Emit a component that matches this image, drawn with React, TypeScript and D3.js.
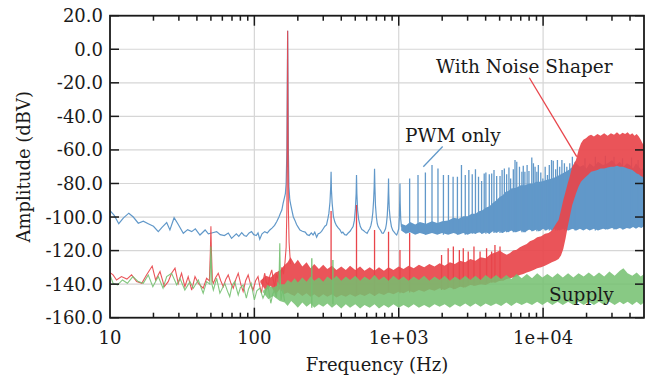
import React from 'react';
import * as d3 from 'd3';

// ---- axis setup ----
const xTickValues = [10, 100, 1000, 10000];
const xTickLabels = ['10', '100', '1e+03', '1e+04'];
const yTickValues = [-160, -140, -120, -100, -80, -60, -40, -20, 0, 20];

// ---- PWM only (blue) ----
// low-frequency trace incl. fundamental and first harmonics [Hz, dBV]
const blueLine: [number, number][] = [
  [10, -96.2], [10.7, -99], [11.5, -104], [12.4, -100.5], [13.5, -97.7], [14.5, -100], [15.7, -103.7],
  [17, -102.5], [18.4, -104], [20, -105.5], [21.6, -108.7], [23, -106], [24.7, -103.3], [26, -107.7],
  [27.8, -100.4], [29.5, -104], [32.2, -109.7], [34.5, -107.5], [36.8, -108.7], [39, -107], [42, -110.7],
  [45.6, -107.7], [48, -110], [50.6, -109.5], [54.8, -108.7], [58, -110.5], [62, -111], [66, -109.5],
  [69.5, -112.7], [75, -110], [78, -111.5], [81.7, -109.3], [85, -111], [88, -111.5], [92, -109.5],
  [95.6, -108.7], [99, -110.5], [103, -111], [106, -109.5], [109, -113.2], [113, -110], [118, -108.7],
  [123, -109.5], [128, -107.7], [133, -106.5], [138, -105], [143, -102.7], [148, -100], [152, -97.5],
  [155, -95.8], [158, -92], [161, -89], [164, -86], [166, -80], [168, -60], [170, 11], [172, -60],
  [173.5, -82], [176, -89.8], [179, -93], [182, -96], [186, -99.8], [191, -102], [196, -104.5], [201, -106],
  [207, -107.7], [215, -108.5], [225, -109], [232, -110.5], [240, -111], [248, -109.5], [255, -110.7],
  [262, -109], [270, -112], [277, -110], [283, -109.7], [292, -108.5], [300, -107], [308, -105.5],
  [316, -104.7], [323, -101], [328, -98], [334, -91], [338, -82], [340, -73], [342, -84], [346, -92],
  [353, -99.8], [361, -103], [370, -105], [381, -106.5], [392, -107.7], [402, -109.5], [410, -109],
  [422, -110.5], [435, -110.7], [447, -109.5], [460, -108.5], [472, -107], [483, -105.7], [493, -102],
  [501, -95], [507, -86], [510, -75], [513, -86], [519, -96], [528, -101.5], [542, -105.7], [556, -107.5],
  [570, -108], [587, -109], [604, -109.7], [618, -108], [630, -107], [642, -105], [652, -102], [662, -97],
  [670, -90], [676, -82], [680, -71.3], [684, -82], [690, -93], [700, -100], [710, -104], [720, -105.7],
  [735, -107], [750, -108], [765, -109.5], [781, -109.7], [796, -108.5], [810, -107], [822, -104],
  [833, -99], [842, -91], [847, -84], [850, -77], [853, -86], [860, -95], [872, -101], [890, -105.7],
  [910, -108], [930, -109], [950, -110], [968, -110.7], [985, -109], [1000, -107], [1010, -100],
  [1016, -90], [1020, -80], [1024, -92], [1032, -101], [1045, -106],
];
// dense region [Hz, low dBV, high dBV]
const blueBand: [number, number, number][] = [
  [1040, -108, -104], [1120, -110, -105], [1200, -109, -103], [1300, -110.5, -104.5], [1400, -109.5, -103],
  [1550, -110.5, -104], [1700, -109.5, -102.5], [1850, -110.5, -103.5], [2000, -109.5, -102.5],
  [2200, -110.5, -102], [2400, -109.5, -100.5], [2600, -110.5, -101], [2800, -109.5, -99.5],
  [3000, -110.5, -99.5], [3200, -109.5, -98], [3400, -110, -98], [3600, -109, -96.5], [3800, -110, -96],
  [4000, -109, -94.5], [4250, -110, -93.5], [4500, -108.5, -91.5], [4750, -109.5, -90], [5000, -108.5, -88],
  [5250, -109.5, -87], [5500, -108.5, -85], [5750, -109, -84.5], [6000, -108, -83], [6500, -109, -82.5],
  [7000, -108, -81], [7500, -109, -81], [8000, -107.5, -80], [8500, -108.5, -80], [9000, -107.5, -79],
  [9500, -108.5, -79], [10000, -107, -78.5], [10500, -108, -78], [11000, -107, -77.5], [11500, -108, -77],
  [12000, -107, -76.5], [13000, -108, -75], [14000, -107, -73.5], [15000, -108, -72], [16000, -107, -70],
  [17000, -108, -68], [18000, -107, -70], [19000, -108, -69], [20000, -107, -71], [21000, -108, -68],
  [22500, -107, -70], [24000, -108, -67], [26000, -107, -69], [28000, -107.5, -68], [30000, -106.5, -66],
  [32000, -107.5, -69], [34000, -106.5, -67], [36000, -107.5, -70], [38000, -106.5, -68], [40000, -107, -69],
  [42000, -106, -71], [44000, -107, -68], [46000, -106, -70], [48000, -106.5, -72], [50000, -105.5, -70],
];
// harmonic peaks [Hz, dBV]
const blueSpikes: [number, number][] = [
  [1190, -77], [1360, -75], [1530, -73.5], [1700, -69], [1870, -71], [2040, -75], [2210, -75], [2380, -76],
  [2550, -76], [2720, -69], [2890, -75], [3060, -72], [3230, -74.5], [3400, -71.5], [3570, -76], [3750, -78.5],
  [3910, -74], [4015, -73.5], [4240, -74.5], [4405, -74], [4570, -72], [4770, -75.5], [5030, -75.5],
  [5200, -72], [5390, -71], [5590, -74.5], [5800, -70.5], [5960, -77], [6220, -71.5], [6390, -66],
  [6570, -67], [6860, -70], [7130, -73], [7290, -69.5], [7480, -73], [7750, -69], [7980, -72.5],
  [8350, -64.5], [8570, -68], [8800, -70], [9050, -73], [9270, -69], [9640, -73.5], [9960, -77],
  [10340, -70], [10720, -75], [11040, -69], [11440, -66], [11760, -66.5], [12220, -71.5], [12570, -66],
  [13030, -70], [13500, -66], [14050, -68], [14600, -70], [15300, -68], [15950, -64], [16670, -67],
  [19500, -65], [23000, -64], [27000, -63.5], [31000, -64], [35500, -65], [41000, -64.5], [45500, -66],
];

// ---- With Noise Shaper (red) ----
const redLine: [number, number][] = [
  [10, -133.1], [10.5, -134.5], [11.1, -137.5], [12, -135.5], [13.1, -137], [14.1, -134.5], [15.3, -138.5],
  [16.6, -139.5], [17.9, -134.5], [19.6, -129.2], [20.7, -137.5], [22.2, -132.5], [23.8, -141.5],
  [25.3, -138.5], [26.7, -133.5], [28.2, -130.5], [29.7, -139.5], [31.3, -133.5], [33, -141.5],
  [34.8, -135.5], [36.8, -143.5], [38.8, -135.5], [40.9, -139.5], [44.2, -142.4], [46.7, -136.5],
  [48.8, -138], [49.6, -120], [50, -105.5], [50.4, -120], [51.2, -138], [52, -139.5], [54, -136],
  [56.2, -133.5], [58.5, -138], [60.9, -141.5], [63.5, -137], [65.9, -134.5], [68.5, -139], [71.4, -142.4],
  [74.5, -137], [77.3, -133.5], [80.5, -140], [83.6, -144.4], [87, -138], [90.6, -134.5], [94, -140],
  [98, -143.5], [102, -138], [106, -135.5], [109, -141], [112, -145.4], [115, -138], [118, -133.5],
  [121, -139], [125, -140.5], [128, -135], [132, -131.5], [135, -137], [138, -141.5], [142, -134],
  [145, -136.5], [148, -132], [151, -138], [155, -130], [159, -134], [163, -127], [166, -118], [168, -95],
  [170, 11], [172, -95], [174, -115], [176, -122], [178, -128],
];
const redBand: [number, number, number][] = [
  [110, -139, -138], [120, -144, -135], [130, -141, -136], [140, -146, -133], [150, -143, -132],
  [160, -146, -129], [170, -145, -127], [178, -146, -124], [190, -147, -128],
  [200, -145, -125.5], [215, -147, -129.5], [230, -145.5, -127], [245, -147.5, -130.5], [260, -146, -128],
  [280, -148, -131], [300, -146, -128.5], [320, -147.5, -131], [345, -146, -129], [370, -148, -131.5],
  [400, -146.5, -129.5], [430, -147.5, -131.5], [460, -146, -129], [500, -147.5, -131.5], [540, -146, -129.5],
  [580, -147, -132], [630, -145.5, -130], [680, -147, -132], [730, -145.5, -130], [790, -146.5, -132],
  [850, -145, -130], [920, -146, -131.5], [1000, -144.5, -129.5], [1080, -145.5, -131], [1170, -144, -129],
  [1270, -145, -130.5], [1380, -143.5, -128.5], [1500, -144.5, -130], [1630, -143, -128], [1770, -144, -129.5],
  [1920, -142.5, -127.5], [2080, -143.5, -129], [2260, -142, -127], [2450, -143, -128], [2660, -141.5, -126],
  [2890, -142, -127], [3130, -140.5, -125], [3400, -141, -126], [3690, -140, -124], [4000, -140.5, -124.5],
  [4350, -139, -122], [4720, -139, -121], [5000, -138, -120], [5300, -138, -121.5], [5600, -137, -122.5],
  [5900, -136.5, -121.5], [6200, -136, -120], [6550, -135.5, -119.5], [6900, -134.5, -118], [7300, -134, -117],
  [7700, -133, -116], [8100, -132.5, -114.5], [8600, -131.5, -113.5], [9100, -130.5, -112], [9700, -130, -111.5],
  [10300, -129, -110], [10900, -128, -109.5], [11500, -127, -108], [12200, -126, -104.5],
  [12800, -125, -101.7], [13300, -123, -96], [13800, -119, -89.8], [14300, -113, -85], [14800, -106, -80],
  [15300, -100, -75.9], [15900, -93, -70], [16900, -86, -66], [17600, -82, -60], [18300, -79, -56],
  [19000, -77.5, -54], [19800, -76, -53], [20700, -74.5, -51.5], [21500, -73, -51], [22500, -72.5, -52],
  [23800, -72, -50.5], [25000, -71, -51.5], [26500, -71, -50], [28000, -70.5, -51.5], [29500, -70, -50],
  [31000, -70, -51], [32500, -69.5, -49.5], [34000, -70, -51], [35500, -70, -49.7], [37000, -70.5, -50.5],
  [38500, -71, -49.5], [40000, -71.5, -51], [41500, -72, -50], [43000, -73, -51.5], [44500, -74, -50.5],
  [46000, -74.5, -52], [47500, -75.5, -54], [48800, -76, -56], [50000, -77, -57],
];
const redSpikes: [number, number][] = [
  [340, -96.4], [510, -92.8], [680, -107.7], [850, -108.7], [1020, -119.6], [1190, -109.5], [1980, -122.6],
  [2200, -118.6], [2390, -117.6], [2630, -119.6], [2800, -118.6], [3030, -120.6], [3320, -117.6],
  [3660, -120.6], [4060, -118.6], [4400, -120.6], [4640, -116.6], [5030, -117.6],
];

// ---- Supply (green) ----
const greenLine: [number, number][] = [
  [10, -134.5], [10.5, -139.5], [11.3, -140.5], [12.2, -137.5], [13.2, -139.5], [14.4, -135.5], [15.7, -138.5],
  [17, -139.5], [18.4, -134.5], [19.8, -141.5], [21.6, -135.5], [23.3, -142.4], [24.7, -135.5], [26.7, -133.5],
  [29, -140.5], [30.5, -136.5], [33, -143.5], [35.8, -138.5], [37.8, -142.4], [40.9, -137.5], [44.2, -145.4],
  [46.7, -138.5], [49.2, -140], [50, -117.6], [50.8, -140], [52, -143.5], [54.8, -136.5], [57.7, -145.4],
  [62.4, -139.5], [65, -144], [67.5, -147.4], [70, -141], [73, -138.5], [77.3, -146.4], [80, -142],
  [83.6, -140.5], [88, -148.4], [91, -143], [95, -139.5], [100, -149.4], [104, -144], [109, -142.4],
  [114.7, -148.4], [119, -145], [124, -140.5], [130, -151.4], [134, -146], [138, -143.5], [142, -148],
  [145, -139.5], [148, -141], [150, -115.6], [152, -145], [153, -149.4], [157, -143], [162, -150],
];
const greenBand: [number, number, number][] = [
  [115, -145, -144], [125, -149, -141], [135, -147, -142], [150, -150, -140], [162, -151, -140],
  [170, -153, -137.5], [180, -150, -139], [190, -152, -136.5],
  [200, -154, -139], [215, -151, -136], [230, -153.5, -138.5], [245, -151.5, -135.5], [260, -154, -138],
  [280, -152, -136], [300, -153.5, -138.5], [320, -151.5, -135.5], [345, -154, -137.5], [370, -152, -135],
  [400, -154.5, -138], [430, -152, -135.5], [460, -154, -137.5], [500, -152, -135], [540, -154.5, -138],
  [580, -152.5, -135.5], [630, -154, -137.5], [680, -152, -134.5], [730, -154.5, -137.5], [790, -152.5, -135.5],
  [850, -154, -138], [920, -152, -135], [1000, -154, -137.5], [1080, -152.5, -135.5], [1170, -154, -138],
  [1270, -152, -135.5], [1380, -154, -137.5], [1500, -152.5, -135], [1630, -154, -138], [1770, -152, -135.5],
  [1920, -153.5, -137.5], [2080, -152, -135], [2260, -154, -138], [2450, -152, -135.5], [2660, -153.5, -137.5],
  [2890, -151.5, -135], [3130, -153.5, -137.5], [3400, -151.5, -135], [3690, -153.5, -137.5], [4000, -151.5, -134.5],
  [4350, -153, -137], [4720, -151.5, -134.5], [5120, -153, -137], [5560, -151, -134.5], [6030, -153, -137],
  [6550, -151, -134], [7110, -152.5, -136.5], [7720, -151, -134], [8380, -152.5, -136.5], [9100, -150.5, -133.5],
  [9880, -152.5, -136], [10700, -150.5, -134], [11600, -152.5, -136], [12600, -150.5, -133.5], [13700, -152.5, -136],
  [14900, -150.5, -133.5], [16200, -152.5, -136], [17600, -150.5, -133.5], [19100, -152.5, -135.5],
  [20700, -150.5, -133], [22500, -152.5, -135.5], [24400, -150.5, -133], [26500, -152.5, -135.5],
  [28800, -150.5, -132.5], [31300, -152.5, -135], [34000, -150.5, -132], [36000, -152, -130.5],
  [38500, -150.5, -133.5], [41500, -152.5, -135], [44500, -150.5, -133], [47500, -152.5, -135.5], [50000, -151, -134],
];
const greenSpikes: [number, number][] = [[250, -124.6], [350, -125.6]];

// ---- annotations [Hz, dBV] ----
const labelPwm = { text: 'PWM only', at: [1105, -55], from: [1480, -70], to: [2016, -58] };
const labelShaper = { text: 'With Noise Shaper', at: [1811, -14], from: [8030, -17], to: [17100, -64] };
const labelSupply = { text: 'Supply', at: [10980, -150] };

const BLUE = '#6198c9';
const RED = '#e8454b';
const GREEN = '#74c070';
const INK = '#1a1a1a';

export default function App() {
  const left = 110, right = 644, top = 15.7, bottom = 317.7;

  const x = d3.scaleLog().domain([10, 50000]).range([left, right]);
  const y = d3.scaleLinear().domain([-160, 20]).range([bottom, top]);

  const line = d3.line<[number, number]>().x(d => x(d[0])).y(d => y(d[1]));
  const area = d3.area<[number, number, number]>()
    .x(d => x(d[0])).y0(d => y(d[1])).y1(d => y(d[2]));

  // bottom of a band at a given frequency (nearest listed point)
  const floorAt = (band: [number, number, number][], f: number) => {
    const i = Math.max(0, Math.min(band.length - 1, d3.bisector((d: [number, number, number]) => d[0]).left(band, f)));
    return band[i][1];
  };

  const minor = x.ticks().filter(t => !xTickValues.includes(t) && t < 50000);

  return (
    <svg width={656} height={379} style={{ position: 'absolute', left: 0, top: 0, background: '#fff' }}
      fontFamily="'DejaVu Serif', serif">
      <defs>
        <clipPath id="plot-clip">
          <rect x={left} y={top} width={right - left} height={bottom - top} />
        </clipPath>
      </defs>

      {/* grid */}
      <g stroke="#d6d6d6" strokeWidth={1.2}>
        {yTickValues.map(v => (
          <line key={'gy' + v} x1={left} x2={right} y1={y(v)} y2={y(v)} />
        ))}
        {xTickValues.slice(1).map(v => (
          <line key={'gx' + v} x1={x(v)} x2={x(v)} y1={top} y2={bottom} />
        ))}
      </g>

      <g clipPath="url(#plot-clip)">
        {/* PWM only */}
        <path d={area(blueBand) || ''} fill={BLUE} />
        <path d={line(blueLine) || ''} fill="none" stroke={BLUE} strokeWidth={1.2} />
        <g stroke={BLUE} strokeWidth={1.3}>
          {blueSpikes.map(([f, v]) => (
            <line key={'bs' + f} x1={x(f)} x2={x(f)} y1={y(floorAt(blueBand, f))} y2={y(v)} />
          ))}
        </g>

        {/* With Noise Shaper */}
        <path d={area(redBand) || ''} fill={RED} opacity={0.92} />
        <path d={line(redLine) || ''} fill="none" stroke={RED} strokeWidth={1.1} opacity={0.92} />
        <g stroke={RED} strokeWidth={1.3}>
          {redSpikes.map(([f, v]) => (
            <line key={'rs' + f} x1={x(f)} x2={x(f)} y1={y(floorAt(redBand, f))} y2={y(v)} />
          ))}
        </g>

        {/* Supply */}
        <path d={area(greenBand) || ''} fill={GREEN} opacity={0.86} />
        <path d={line(greenLine) || ''} fill="none" stroke={GREEN} strokeWidth={1.1} opacity={0.9} />
        <g stroke={GREEN} strokeWidth={1.3}>
          {greenSpikes.map(([f, v]) => (
            <line key={'gs' + f} x1={x(f)} x2={x(f)} y1={y(floorAt(greenBand, f))} y2={y(v)} />
          ))}
        </g>
      </g>

      {/* frame */}
      <rect x={left} y={top} width={right - left} height={bottom - top} fill="none" stroke={INK} strokeWidth={1.8} />

      {/* ticks */}
      <g stroke={INK} strokeWidth={1.5}>
        {xTickValues.slice(1).map(v => (
          <g key={'xt' + v}>
            <line x1={x(v)} x2={x(v)} y1={bottom} y2={bottom - 10} />
            <line x1={x(v)} x2={x(v)} y1={top} y2={top + 10} />
          </g>
        ))}
        {minor.map(v => (
          <g key={'xm' + v}>
            <line x1={x(v)} x2={x(v)} y1={bottom} y2={bottom - 5} />
            <line x1={x(v)} x2={x(v)} y1={top} y2={top + 5} />
          </g>
        ))}
        {yTickValues.map(v => (
          <g key={'yt' + v}>
            <line x1={left} x2={left + 9} y1={y(v)} y2={y(v)} />
            <line x1={right} x2={right - 9} y1={y(v)} y2={y(v)} />
          </g>
        ))}
      </g>

      {/* tick labels */}
      <g fontSize={18} fill={INK}>
        {yTickValues.map(v => (
          <text key={'yl' + v} x={left - 7} y={y(v)} dy="0.36em" textAnchor="end">{v.toFixed(1)}</text>
        ))}
        {xTickValues.map((v, i) => (
          <text key={'xl' + v} x={x(v)} y={344} textAnchor="middle">{xTickLabels[i]}</text>
        ))}
      </g>

      {/* axis titles */}
      <text x={(left + right) / 2} y={371} textAnchor="middle" fontSize={18} fill={INK}>Frequency (Hz)</text>
      <text transform={`translate(30,${(top + bottom) / 2}) rotate(-90)`} textAnchor="middle" fontSize={18} fill={INK}>
        Amplitude (dBV)
      </text>

      {/* annotations */}
      <line x1={x(labelPwm.from[0])} y1={y(labelPwm.from[1])} x2={x(labelPwm.to[0])} y2={y(labelPwm.to[1])}
        stroke={BLUE} strokeWidth={1.3} />
      <line x1={x(labelShaper.from[0])} y1={y(labelShaper.from[1])} x2={x(labelShaper.to[0])} y2={y(labelShaper.to[1])}
        stroke={RED} strokeWidth={1.3} />
      <g fontSize={18.5} fill={INK}>
        <text x={x(labelPwm.at[0])} y={y(labelPwm.at[1])}>{labelPwm.text}</text>
        <text x={x(labelShaper.at[0])} y={y(labelShaper.at[1])}>{labelShaper.text}</text>
        <text x={x(labelSupply.at[0])} y={y(labelSupply.at[1])}>{labelSupply.text}</text>
      </g>
    </svg>
  );
}
